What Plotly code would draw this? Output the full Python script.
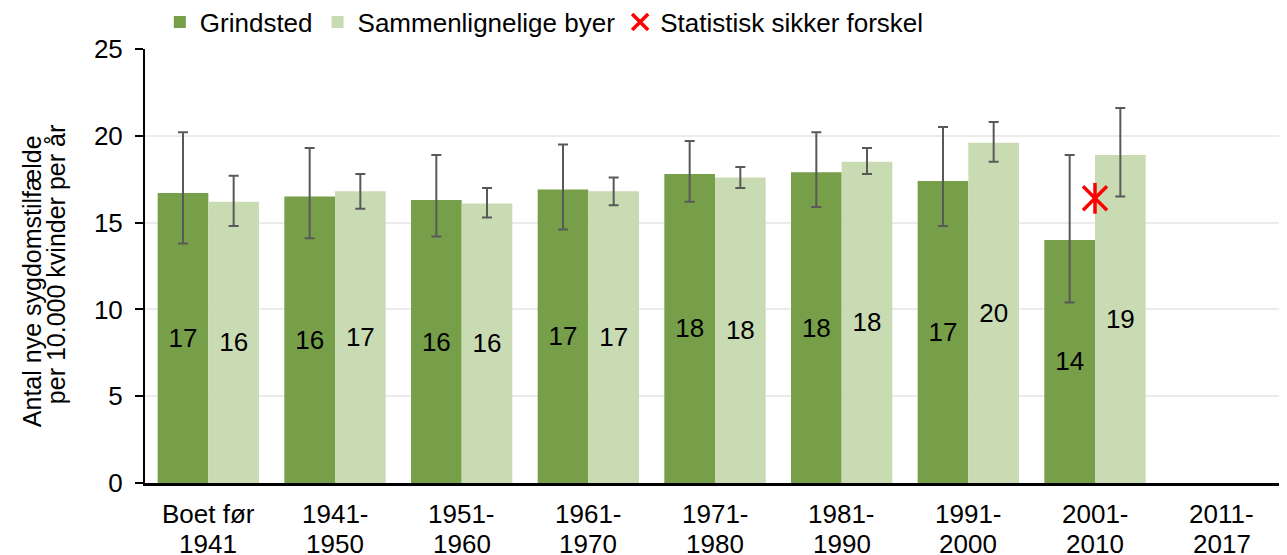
import plotly.graph_objects as go

# Data
categories = ["Boet før 1941", "1941-1950", "1951-1960", "1961-1970", "1971-1980",
              "1981-1990", "1991-2000", "2001-2010", "2011-2017"]
tick_line1 = ["Boet før", "1941-", "1951-", "1961-", "1971-", "1981-", "1991-", "2001-", "2011-"]
tick_line2 = ["1941", "1950", "1960", "1970", "1980", "1990", "2000", "2010", "2017"]

grindsted = [16.7, 16.5, 16.3, 16.9, 17.8, 17.9, 17.4, 14.0, None]
grindsted_hi = [20.2, 19.3, 18.9, 19.5, 19.7, 20.2, 20.5, 18.9, None]
grindsted_lo = [13.8, 14.1, 14.2, 14.6, 16.2, 15.9, 14.8, 10.4, None]

byer = [16.2, 16.8, 16.1, 16.8, 17.6, 18.5, 19.6, 18.9, None]
byer_hi = [17.7, 17.8, 17.0, 17.6, 18.2, 19.3, 20.8, 21.6, None]
byer_lo = [14.8, 15.8, 15.3, 16.0, 17.0, 17.8, 18.5, 16.5, None]

signif_cat = ["2001-2010"]
signif_val = [16.4]

y_title = ["Antal nye sygdomstilfælde", "per 10.000 kvinder per år"]

DARK = "#779E48"
LIGHT = "#C9DBB3"
ERR = "#595959"
RED = "#FF0000"
FONT = "Liberation Sans, Arial, sans-serif"
FS = 26


def err_parts(vals, hi, lo):
    plus = [h - v if v is not None else None for v, h in zip(vals, hi)]
    minus = [v - l if v is not None else None for v, l in zip(vals, lo)]
    return plus, minus


def labels(vals):
    return [f"{v:.0f}" if v is not None else "" for v in vals]


fig = go.Figure()

for name, vals, hi, lo, color in [
    ("Grindsted", grindsted, grindsted_hi, grindsted_lo, DARK),
    ("Sammenlignelige byer", byer, byer_hi, byer_lo, LIGHT),
]:
    plus, minus = err_parts(vals, hi, lo)
    fig.add_trace(go.Bar(
        x=categories, y=vals, name=name,
        marker=dict(color=color, line=dict(width=0)),
        text=labels(vals), textposition="inside", insidetextanchor="middle",
        textfont=dict(color="black", size=FS, family=FONT),
        textangle=0,
        error_y=dict(type="data", array=plus, arrayminus=minus, visible=True,
                     color=ERR, thickness=2, width=5),
    ))

# significance marker: an x plus a vertical stroke
fig.add_trace(go.Scatter(
    x=signif_cat, y=signif_val, mode="markers", name="Statistisk sikker forskel",
    marker=dict(symbol="x-thin-open", size=24, color=RED, line=dict(color=RED, width=3.5)),
))
fig.add_trace(go.Scatter(
    x=signif_cat, y=signif_val, mode="markers", showlegend=False, hoverinfo="skip",
    marker=dict(symbol="line-ns-open", size=22, color=RED, line=dict(color=RED, width=3.5)),
))

# x tick labels, one annotation per line
for cat, l1, l2 in zip(categories, tick_line1, tick_line2):
    for txt, shift in [(l1, -31), (l2, -61)]:
        fig.add_annotation(x=cat, xref="x", y=0, yref="paper", yanchor="middle",
                           yshift=shift, text=txt, showarrow=False, height=26,
                           font=dict(size=FS, family=FONT, color="black"))

# y title, two tight lines
for txt, shift, yp in [(y_title[0], -113, 0.465), (y_title[1], -89, 0.502)]:
    fig.add_annotation(x=0, xref="paper", xshift=shift, y=yp, yref="paper",
                       xanchor="center", yanchor="middle", text=txt, textangle=-90,
                       showarrow=False, font=dict(size=25, family=FONT, color="black"))

# page body has an 8px margin, so the figure is drawn 8px smaller
fig.update_layout(
    width=1279, height=547,
    margin=dict(l=137, r=2, t=41, b=72, autoexpand=False),
    paper_bgcolor="white", plot_bgcolor="white",
    barmode="group", bargap=0.2, bargroupgap=0,
    font=dict(family=FONT, size=FS, color="black"),
    uniformtext=dict(mode="show", minsize=FS),
    legend=dict(orientation="h", x=0.013, xanchor="left", y=1.062, yref="paper",
                yanchor="middle", font=dict(size=FS), itemwidth=30,
                bgcolor="rgba(0,0,0,0)"),
    showlegend=True,
)

fig.update_yaxes(
    range=[0, 25], dtick=5, showgrid=True, gridcolor="#EBEBEB", gridwidth=2,
    showline=True, linecolor="black", linewidth=2, ticks="outside",
    tickcolor="black", ticklen=8, tickwidth=1.5, zeroline=False,
    tickfont=dict(size=FS), ticklabelstandoff=7,
)
fig.update_xaxes(
    showline=True, linecolor="black", linewidth=3, ticks="",
    showticklabels=False, range=[-0.5, 8.5],
)

fig.write_html("out.html")
